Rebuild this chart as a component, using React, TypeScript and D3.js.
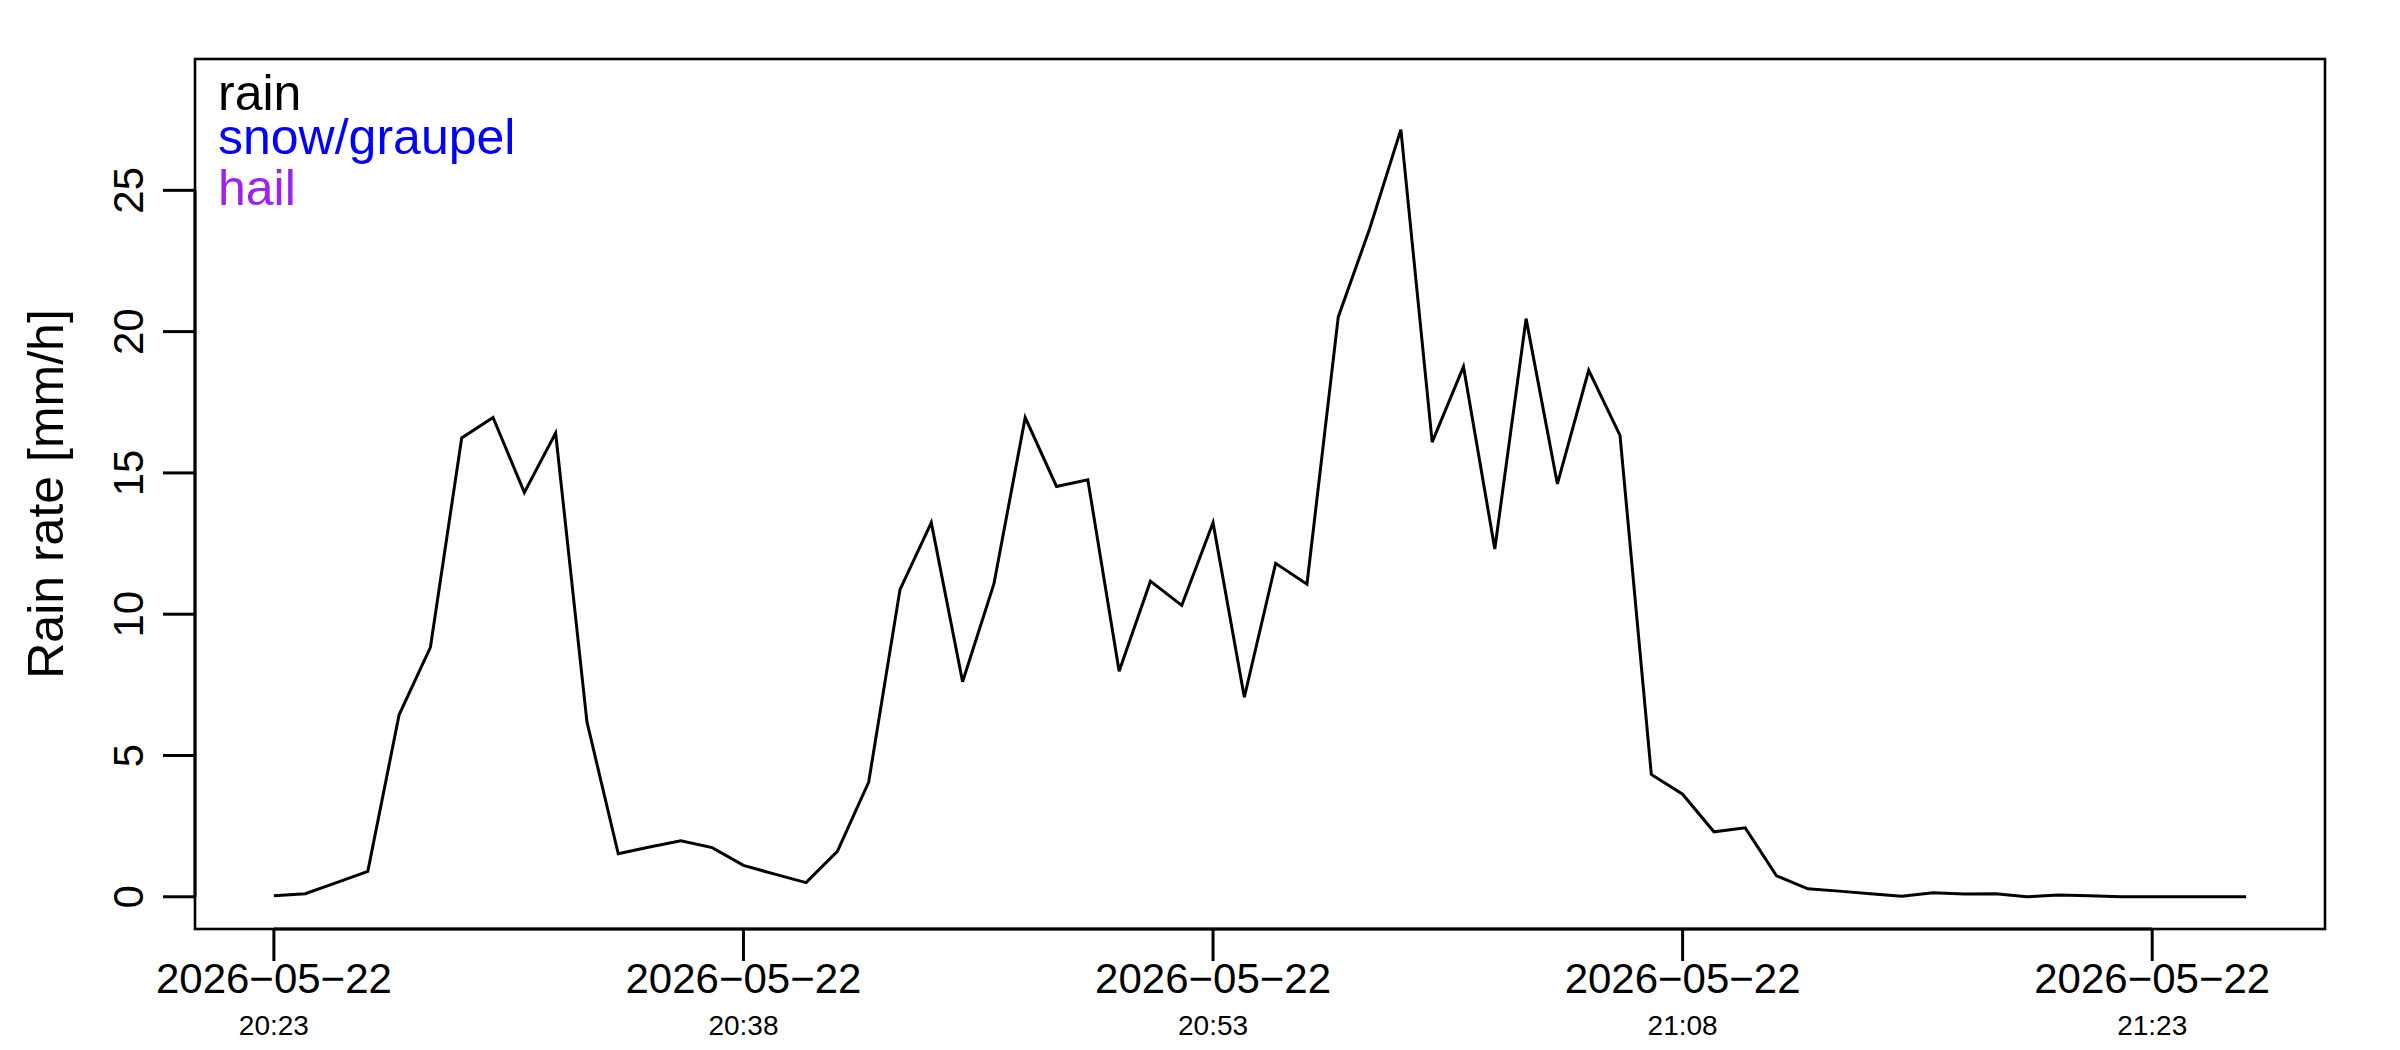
import * as d3 from 'd3';

// rain rate, one value per minute starting 2026-05-22 20:23 (UTC)
const startTime = '2026-05-22T20:23:00Z';
const rainRate = [
  0.04, 0.11, 0.5, 0.9, 6.44, 8.83, 16.24, 16.96, 14.31, 16.41,
  6.19, 1.52, 1.76, 1.98, 1.74, 1.11, 0.8, 0.5, 1.61, 4.06,
  10.87, 13.24, 7.61, 11.07, 16.96, 14.52, 14.76, 7.98, 11.17, 10.31,
  13.24, 7.06, 11.8, 11.06, 20.52, 23.63, 27.15, 16.09, 18.76, 12.31,
  20.46, 14.61, 18.63, 16.33, 4.33, 3.63, 2.3, 2.44, 0.74, 0.28,
  0.2, 0.11, 0.02, 0.14, 0.1, 0.11, 0.0, 0.06, 0.04, 0.0,
  0.0, 0.0, 0.0, 0.0,
];
const yTicks = [0, 5, 10, 15, 20, 25];
const xTickLabels = ['20:23', '20:38', '20:53', '21:08', '21:23'];
const legendItems = ['rain', 'snow/graupel', 'hail'];
const legendColors = ['#000000', '#0000ff', '#a020f0'];

const W = 2400;
const H = 1050;
const margin = { top: 59, right: 75, bottom: 121, left: 195 };
const font = '"Liberation Sans", Arial, Helvetica, sans-serif';

const App = () => {
  const t0 = new Date(startTime);
  const times = rainRate.map((_, i) => d3.utcMinute.offset(t0, i));
  const data = rainRate.map((v, i) => ({ date: times[i], value: v }));

  // R-style 4% axis extension
  const tExt = d3.extent(times) as [Date, Date];
  const tPad = (+tExt[1] - +tExt[0]) * 0.04;
  const x = d3.scaleTime()
    .domain([new Date(+tExt[0] - tPad), new Date(+tExt[1] + tPad)])
    .range([margin.left, W - margin.right]);

  const ylim = [0, d3.max(rainRate)! * 1.05];
  const yPad = (ylim[1] - ylim[0]) * 0.04;
  const y = d3.scaleLinear()
    .domain([ylim[0] - yPad, ylim[1] + yPad])
    .range([H - margin.bottom, margin.top]);

  const line = d3.line<{ date: Date; value: number }>()
    .x(d => x(d.date))
    .y(d => y(d.value));

  const parseHM = d3.utcParse('%Y-%m-%d %H:%M');
  const fmtDate = d3.utcFormat('%Y-%m-%d');
  const xTicks = xTickLabels.map(s => parseHM(fmtDate(t0) + ' ' + s)!);

  const left = margin.left;
  const bottom = H - margin.bottom;
  const tickLen = 32;

  return (
    <svg width={W} height={H} style={{ position: 'absolute', left: 0, top: 0, background: '#fff' }}
      fontFamily={font}>
      <rect x={0} y={0} width={W} height={H} fill="#fff" />

      {/* plot box */}
      <rect x={left} y={margin.top} width={W - margin.right - left} height={bottom - margin.top}
        fill="none" stroke="#000" strokeWidth={2.6} />

      {/* data */}
      <path d={line(data)!} fill="none" stroke="#000" strokeWidth={3} strokeLinejoin="miter" />

      {/* legend */}
      {legendItems.map((name, i) => (
        <text key={name} x={left + 23} y={[110, 154, 205][i]} fontSize={50} fill={legendColors[i]}>
          {name}
        </text>
      ))}

      {/* y axis */}
      <line x1={left} x2={left} y1={y(yTicks[0])} y2={y(yTicks[yTicks.length - 1])} stroke="#000" strokeWidth={3} />
      {yTicks.map(t => (
        <g key={t}>
          <line x1={left - tickLen} x2={left} y1={y(t)} y2={y(t)} stroke="#000" strokeWidth={3} />
          <text transform={`translate(${left - 52},${y(t)}) rotate(-90)`} textAnchor="middle" fontSize={42}>
            {t}
          </text>
        </g>
      ))}
      <text transform={`translate(63,${(margin.top + bottom) / 2}) rotate(-90)`} textAnchor="middle" fontSize={50}>
        Rain rate [mm/h]
      </text>

      {/* x axis */}
      <line x1={x(xTicks[0])} x2={x(xTicks[xTicks.length - 1])} y1={bottom} y2={bottom} stroke="#000" strokeWidth={3} />
      {xTicks.map((t, i) => (
        <g key={i}>
          <line x1={x(t)} x2={x(t)} y1={bottom} y2={bottom + tickLen} stroke="#000" strokeWidth={3} />
          <text x={x(t)} y={993} textAnchor="middle" fontSize={42}>
            {fmtDate(t).replace(/-/g, '\u2212')}
          </text>
          <text x={x(t)} y={1035} textAnchor="middle" fontSize={28}>
            {xTickLabels[i]}
          </text>
        </g>
      ))}
    </svg>
  );
};

export default App;
